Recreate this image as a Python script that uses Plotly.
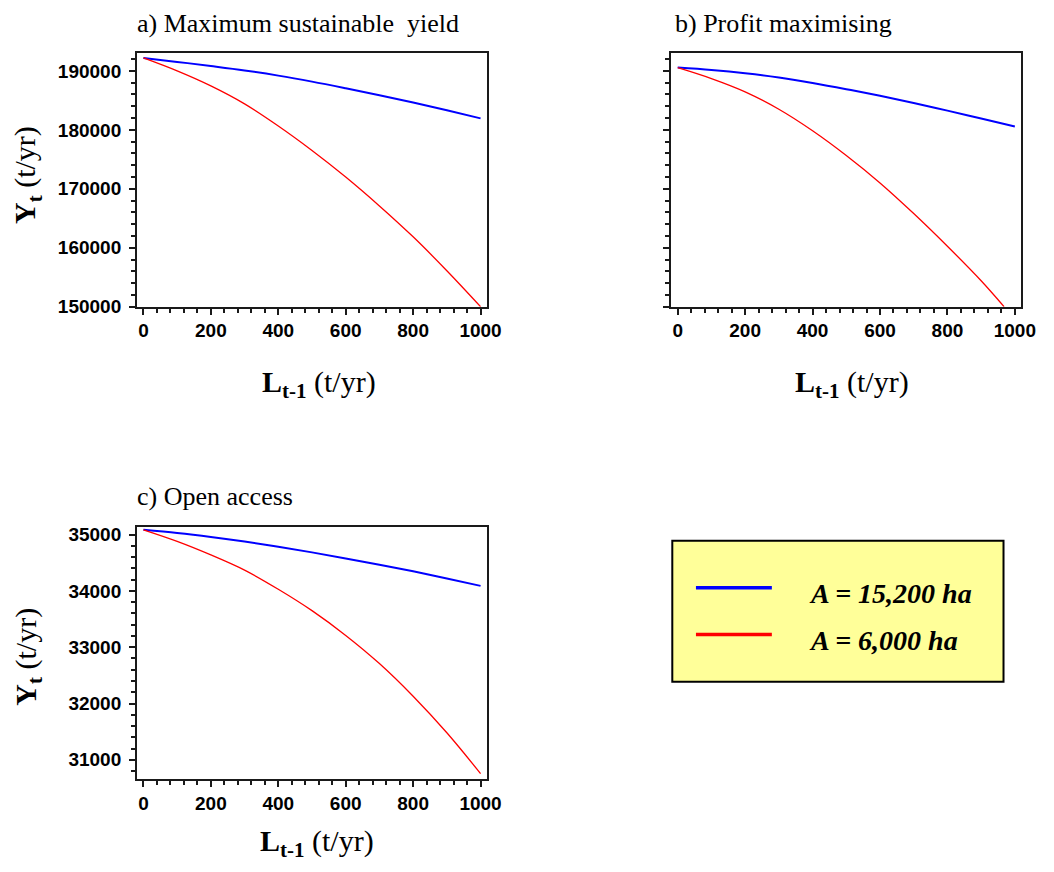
import plotly.graph_objects as go

# ---------------- data ----------------
L = [0, 100, 200, 300, 400, 500, 600, 700, 800, 900, 1000]

# a) Maximum sustainable yield
msy_a15200 = [192200, 191530, 190830, 190080, 189200, 188180, 187050, 185870, 184630, 183320, 181950]
msy_a6000 = [192200, 190000, 187450, 184400, 180650, 176500, 172000, 167100, 161850, 156100, 150000]

# b) Profit maximising
pm_a15200 = [190560, 190150, 189600, 188880, 187950, 186900, 185780, 184560, 183260, 181930, 180560]
L_pm_red = [0, 100, 200, 300, 400, 500, 600, 700, 800, 900, 968]
pm_a6000 = [190550, 188700, 186450, 183500, 179850, 175650, 171000, 165800, 160250, 154400, 150000]

# c) Open access
oa_a15200 = [35085, 35030, 34960, 34878, 34785, 34685, 34578, 34466, 34348, 34222, 34090]
oa_a6000 = [35085, 34880, 34640, 34370, 34030, 33650, 33210, 32710, 32130, 31480, 30755]

series_names = ["A = 15,200 ha", "A = 6,000 ha"]
series_colors = ["#0000FF", "#FF0000"]
panel_titles = ["a) Maximum sustainable&nbsp;&nbsp;yield", "b) Profit maximising", "c) Open access"]

W, H = 1054, 872


def px(x):
    return x / W


def py(y):
    return 1 - y / H


fig = go.Figure()

panels = [
    ("x", "y", L, msy_a15200, L, msy_a6000),
    ("x2", "y2", L, pm_a15200, L_pm_red, pm_a6000),
    ("x3", "y3", L, oa_a15200, L, oa_a6000),
]
for xa, ya, xb, yb, xr, yr in panels:
    fig.add_trace(go.Scatter(x=xb, y=yb, mode="lines", xaxis=xa, yaxis=ya,
                             line=dict(color=series_colors[0], width=2, shape="spline"),
                             name=series_names[0], showlegend=False))
    fig.add_trace(go.Scatter(x=xr, y=yr, mode="lines", xaxis=xa, yaxis=ya,
                             line=dict(color=series_colors[1], width=1.3, shape="spline"),
                             name=series_names[1], showlegend=False))

tickfont = dict(family="Liberation Sans, Arial, sans-serif", size=19, color="black", weight="bold")
axline = dict(showline=True, linecolor="#1a1a1a", linewidth=2, mirror=True,
              ticks="outside", ticklen=6, tickwidth=2, tickcolor="#1a1a1a",
              showgrid=False, zeroline=False, tickfont=tickfont)


def xaxis(domain):
    return dict(domain=domain, range=[-19, 1019], tick0=0, dtick=200,
                minor=dict(dtick=40, ticks="outside", ticklen=4, tickwidth=2, tickcolor="#1a1a1a"),
                tickformat="d", **axline)


def yaxis(domain, rng, dtick, minor, show=True):
    return dict(domain=domain, range=rng, tick0=0, dtick=dtick,
                minor=dict(dtick=minor, ticks="outside", ticklen=4, tickwidth=2, tickcolor="#1a1a1a"),
                tickformat="d", showticklabels=show, ticklabelstandoff=4, **axline)


xa_dom = [px(139), px(494)]
xb_dom = [px(681), px(1036)]
y_top_dom = [py(309.3), py(52)]
y_bot_dom = [py(789), py(532.7)]

fig.update_layout(
    width=W, height=H,
    margin=dict(l=0, r=0, t=0, b=0),
    paper_bgcolor="white", plot_bgcolor="white",
    showlegend=False,
    xaxis=dict(anchor="y", **xaxis(xa_dom)),
    yaxis=dict(anchor="x", **yaxis(y_top_dom, [150000, 193000], 10000, 2000)),
    xaxis2=dict(anchor="y2", **xaxis(xb_dom)),
    yaxis2=dict(anchor="x2", **yaxis(y_top_dom, [150000, 193000], 10000, 2000, show=False)),
    xaxis3=dict(anchor="y3", **xaxis(xa_dom)),
    yaxis3=dict(anchor="x3", **yaxis(y_bot_dom, [30655, 35140], 1000, 200)),
)

serif = "Liberation Serif, Times New Roman, serif"
ann = []
# panel titles
for t, x, y in [(panel_titles[0], 137, 22), (panel_titles[1], 683, 22), (panel_titles[2], 137, 502)]:
    ann.append(dict(text=t, x=px(x), y=py(y), xref="paper", yref="paper", xanchor="left", yanchor="middle",
                    showarrow=False, font=dict(family=serif, size=26, color="black")))
# x axis titles
xt = "<b>L<sub>t-1</sub></b> (t/yr)"
for x, y in [(324, 388), (864, 388), (322, 854)]:
    ann.append(dict(text=xt, x=px(x), y=py(y), xref="paper", yref="paper", xanchor="center", yanchor="middle",
                    showarrow=False, font=dict(family=serif, size=30, color="black")))
# y axis titles
yt = "<b>Y<sub>t</sub></b> (t/yr)"
for x, y in [(28, 176), (28, 665)]:
    ann.append(dict(text=yt, x=px(x), y=py(y), xref="paper", yref="paper", xanchor="center", yanchor="middle",
                    textangle=-90, showarrow=False, font=dict(family=serif, size=30, color="black")))

# custom legend box
shapes = [dict(type="rect", xref="paper", yref="paper", x0=px(682), x1=px(1018), y0=py(690), y1=py(547),
               fillcolor="#FFFF99", line=dict(color="black", width=2), layer="above")]
for i, yy in enumerate([594.5, 642]):
    shapes.append(dict(type="line", xref="paper", yref="paper", x0=px(706), x1=px(783), y0=py(yy), y1=py(yy),
                       line=dict(color=series_colors[i], width=3.5), layer="above"))
for i, yy in enumerate([600, 648]):
    ann.append(dict(text="<b><i>%s</i></b>" % series_names[i], x=px(819), y=py(yy), xref="paper", yref="paper",
                    xanchor="left", yanchor="middle", showarrow=False,
                    font=dict(family=serif, size=28, color="black")))

fig.update_layout(annotations=ann, shapes=shapes)

post = """
document.documentElement.style.overflow='hidden';
document.body.style.margin='0';
document.body.style.overflow='hidden';
"""

fig.write_html("out.html", post_script=post, config={"displayModeBar": False})
